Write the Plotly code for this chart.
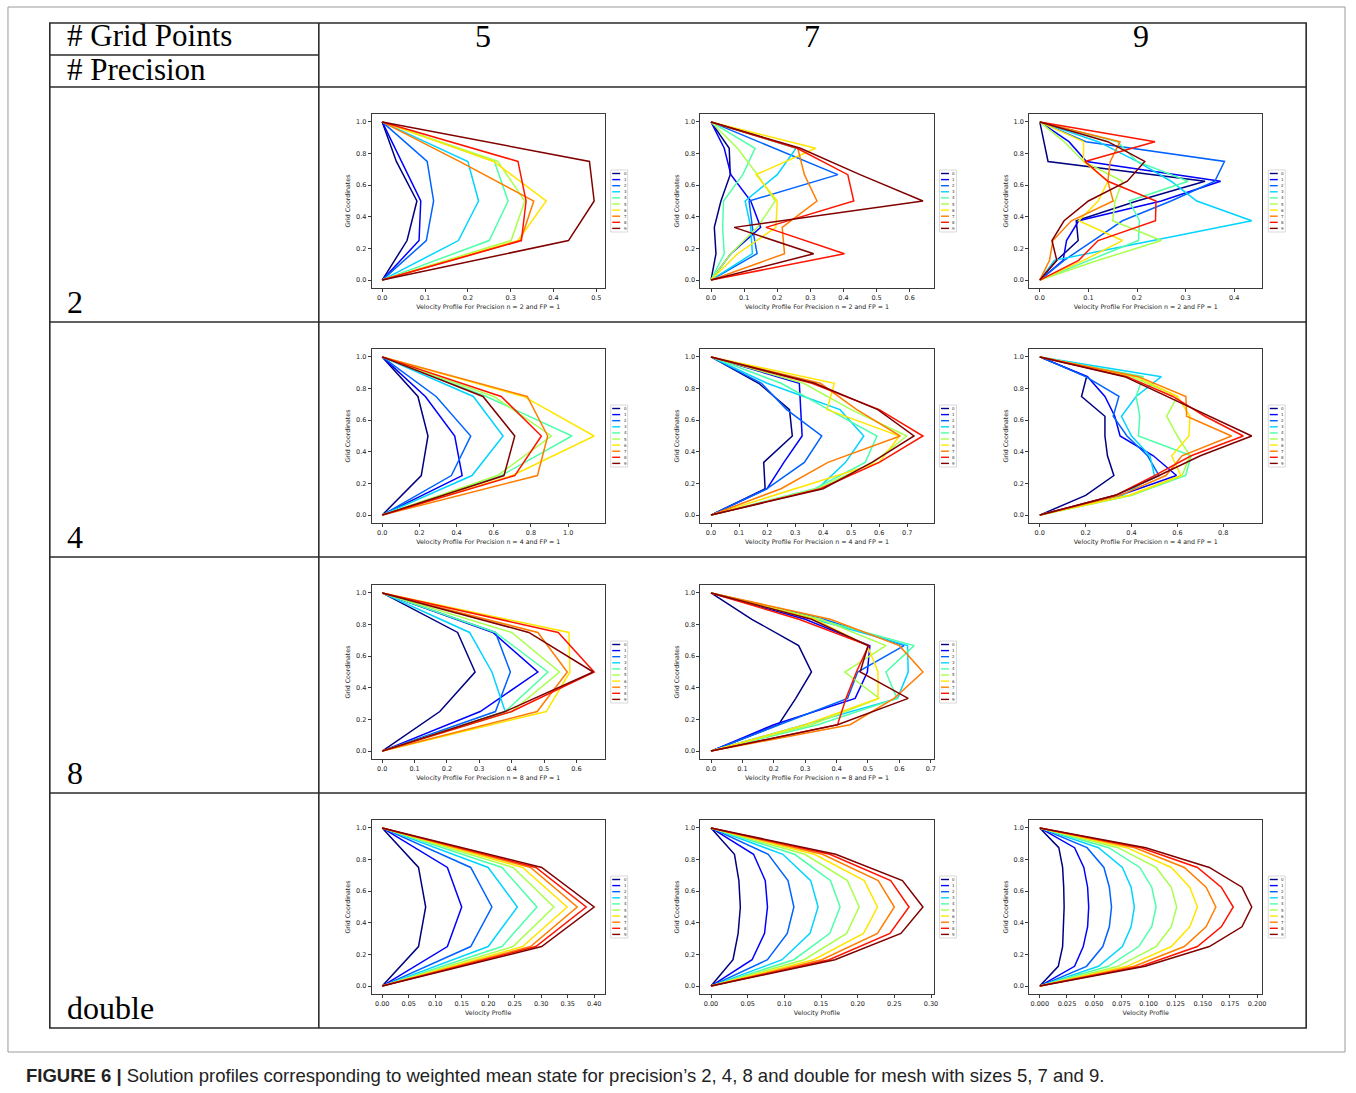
import plotly.graph_objects as go

# ---------------- data ----------------
SERIES_LABELS = ["0", "1", "2", "3", "4", "5", "6", "7", "8", "9"]
COL_LABELS = ["5", "7", "9"]
ROW_LABELS = ["2", "4", "8", "double"]

Y5 = [0.0, 0.25, 0.5, 0.75, 1.0]
Y7 = [0.0, 0.1667, 0.3333, 0.5, 0.6667, 0.8333, 1.0]
Y9 = [0.0, 0.125, 0.25, 0.375, 0.5, 0.625, 0.75, 0.875, 1.0]

n2_g5 = [
    [0, 0.058, 0.081, 0.033, 0],
    [0, 0.086, 0.090, 0.045, 0],
    [0, 0.103, 0.120, 0.105, 0],
    [0, 0.178, 0.225, 0.200, 0],
    [0, 0.250, 0.294, 0.262, 0],
    [0, 0.301, 0.333, 0.270, 0],
    [0, 0.317, 0.383, 0.260, 0],
    [0, 0.323, 0.354, 0.180, 0],
    [0, 0.325, 0.336, 0.317, 0],
    [0, 0.435, 0.495, 0.484, 0],
]
n2_g7 = [
    [0, 0.015, 0.010, 0.030, 0.058, 0.055, 0],
    [0, 0.060, 0.150, 0.120, 0.060, 0.040, 0],
    [0, 0.139, 0.125, 0.115, 0.383, 0.190, 0],
    [0, 0.125, 0.120, 0.103, 0.200, 0.257, 0],
    [0, 0.040, 0.035, 0.038, 0.096, 0.133, 0],
    [0, 0.060, 0.140, 0.194, 0.140, 0.080, 0],
    [0, 0.080, 0.196, 0.200, 0.136, 0.316, 0],
    [0, 0.222, 0.215, 0.320, 0.282, 0.262, 0],
    [0, 0.403, 0.166, 0.431, 0.413, 0.260, 0],
    [0, 0.310, 0.070, 0.640, 0.450, 0.270, 0],
]
n2_g9 = [
    [0, 0.035, 0.079, 0.075, 0.200, 0.340, 0.017, 0.008, 0],
    [0, 0.048, 0.055, 0.080, 0.250, 0.372, 0.096, 0.060, 0],
    [0, 0.050, 0.110, 0.170, 0.270, 0.360, 0.380, 0.095, 0],
    [0, 0.030, 0.233, 0.436, 0.323, 0.270, 0.200, 0.120, 0],
    [0, 0.100, 0.203, 0.205, 0.184, 0.305, 0.200, 0.160, 0],
    [0, 0.120, 0.250, 0.150, 0.155, 0.170, 0.090, 0.050, 0],
    [0, 0.090, 0.170, 0.080, 0.120, 0.140, 0.090, 0.090, 0],
    [0, 0.020, 0.027, 0.065, 0.151, 0.140, 0.145, 0.165, 0],
    [0, 0.080, 0.120, 0.238, 0.239, 0.140, 0.093, 0.237, 0],
    [0, 0.035, 0.025, 0.050, 0.100, 0.180, 0.216, 0.140, 0],
]
n4_g5 = [
    [0, 0.210, 0.246, 0.192, 0],
    [0, 0.430, 0.390, 0.232, 0],
    [0, 0.372, 0.476, 0.290, 0],
    [0, 0.483, 0.650, 0.490, 0],
    [0, 0.640, 1.020, 0.560, 0],
    [0, 0.620, 0.910, 0.600, 0],
    [0, 0.700, 1.140, 0.760, 0],
    [0, 0.835, 0.890, 0.780, 0],
    [0, 0.713, 0.856, 0.640, 0],
    [0, 0.655, 0.713, 0.542, 0],
]
n4_g7 = [
    [0, 0.193, 0.188, 0.290, 0.280, 0.170, 0],
    [0, 0.200, 0.260, 0.325, 0.320, 0.315, 0],
    [0, 0.200, 0.333, 0.395, 0.270, 0.180, 0],
    [0, 0.380, 0.480, 0.545, 0.460, 0.200, 0],
    [0, 0.370, 0.550, 0.592, 0.420, 0.250, 0],
    [0, 0.380, 0.580, 0.698, 0.500, 0.330, 0],
    [0, 0.300, 0.600, 0.672, 0.414, 0.440, 0],
    [0, 0.250, 0.417, 0.675, 0.520, 0.390, 0],
    [0, 0.390, 0.600, 0.756, 0.600, 0.360, 0],
    [0, 0.400, 0.574, 0.724, 0.595, 0.370, 0],
]
n4_g9 = [
    [0, 0.200, 0.323, 0.295, 0.284, 0.284, 0.182, 0.204, 0],
    [0, 0.350, 0.596, 0.495, 0.350, 0.327, 0.284, 0.208, 0],
    [0, 0.330, 0.520, 0.470, 0.380, 0.320, 0.345, 0.200, 0],
    [0, 0.360, 0.500, 0.480, 0.400, 0.356, 0.420, 0.530, 0],
    [0, 0.400, 0.636, 0.660, 0.430, 0.436, 0.420, 0.450, 0],
    [0, 0.400, 0.620, 0.655, 0.600, 0.553, 0.600, 0.400, 0],
    [0, 0.390, 0.615, 0.575, 0.650, 0.655, 0.600, 0.420, 0],
    [0, 0.350, 0.550, 0.620, 0.836, 0.640, 0.637, 0.430, 0],
    [0, 0.330, 0.500, 0.660, 0.887, 0.720, 0.580, 0.380, 0],
    [0, 0.330, 0.520, 0.700, 0.924, 0.740, 0.550, 0.370, 0],
]
n8_g5 = [
    [0, 0.178, 0.287, 0.233, 0],
    [0, 0.303, 0.481, 0.342, 0],
    [0, 0.350, 0.396, 0.350, 0],
    [0, 0.380, 0.339, 0.270, 0],
    [0, 0.380, 0.512, 0.350, 0],
    [0, 0.400, 0.548, 0.400, 0],
    [0, 0.507, 0.580, 0.577, 0],
    [0, 0.479, 0.572, 0.481, 0],
    [0, 0.400, 0.655, 0.544, 0],
    [0, 0.380, 0.652, 0.453, 0],
]
n8_g7 = [
    [0, 0.215, 0.270, 0.320, 0.279, 0.130, 0],
    [0, 0.200, 0.459, 0.498, 0.506, 0.300, 0],
    [0, 0.220, 0.435, 0.467, 0.615, 0.360, 0],
    [0, 0.300, 0.594, 0.628, 0.626, 0.330, 0],
    [0, 0.340, 0.592, 0.557, 0.647, 0.340, 0],
    [0, 0.320, 0.536, 0.426, 0.557, 0.350, 0],
    [0, 0.300, 0.532, 0.532, 0.498, 0.330, 0],
    [0, 0.443, 0.583, 0.675, 0.600, 0.380, 0],
    [0, 0.403, 0.430, 0.463, 0.502, 0.280, 0],
    [0, 0.403, 0.628, 0.475, 0.500, 0.320, 0],
]
dbl_g5 = [
    [0, 0.0685, 0.082, 0.0685, 0],
    [0, 0.123, 0.150, 0.123, 0],
    [0, 0.167, 0.207, 0.167, 0],
    [0, 0.200, 0.255, 0.200, 0],
    [0, 0.226, 0.292, 0.226, 0],
    [0, 0.247, 0.324, 0.247, 0],
    [0, 0.265, 0.349, 0.265, 0],
    [0, 0.280, 0.368, 0.280, 0],
    [0, 0.290, 0.385, 0.290, 0],
    [0, 0.301, 0.400, 0.301, 0],
]
dbl_g7 = [
    [0, 0.030, 0.037, 0.040, 0.038, 0.032, 0],
    [0, 0.056, 0.073, 0.077, 0.074, 0.058, 0],
    [0, 0.077, 0.104, 0.113, 0.105, 0.078, 0],
    [0, 0.097, 0.135, 0.146, 0.136, 0.098, 0],
    [0, 0.113, 0.162, 0.176, 0.163, 0.114, 0],
    [0, 0.127, 0.185, 0.202, 0.186, 0.128, 0],
    [0, 0.140, 0.208, 0.227, 0.209, 0.141, 0],
    [0, 0.151, 0.227, 0.250, 0.228, 0.152, 0],
    [0, 0.161, 0.244, 0.270, 0.245, 0.162, 0],
    [0, 0.169, 0.259, 0.289, 0.261, 0.170, 0],
]
dbl_g9 = [
    [0, 0.017, 0.021, 0.022, 0.0224, 0.022, 0.021, 0.0175, 0],
    [0, 0.032, 0.040, 0.044, 0.045, 0.044, 0.0405, 0.032, 0],
    [0, 0.043, 0.058, 0.064, 0.066, 0.064, 0.059, 0.0435, 0],
    [0, 0.054, 0.076, 0.084, 0.087, 0.084, 0.076, 0.054, 0],
    [0, 0.063, 0.091, 0.103, 0.107, 0.103, 0.092, 0.0635, 0],
    [0, 0.072, 0.107, 0.121, 0.126, 0.121, 0.107, 0.072, 0],
    [0, 0.080, 0.121, 0.138, 0.145, 0.138, 0.121, 0.080, 0],
    [0, 0.087, 0.133, 0.153, 0.162, 0.153, 0.133, 0.0875, 0],
    [0, 0.093, 0.145, 0.167, 0.178, 0.167, 0.145, 0.093, 0],
    [0, 0.097, 0.156, 0.186, 0.195, 0.186, 0.156, 0.0975, 0],
]

CAPTION_BOLD = "FIGURE 6 |"
CAPTION = ("Solution profiles corresponding to weighted mean state for precision’s 2, 4, 8 "
           "and double for mesh with sizes 5, 7 and 9.")

# ---------------- layout helpers ----------------
W, H = 1356, 1087   # slightly shorter than the window so the page never overflows
def px(x): return x / W
def py(y): return 1 - y / H

COL_PX = {"5": (373, 607), "7": (703, 937), "9": (1033, 1267)}
ROW_PX = {"2": (114, 288), "4": (349, 523), "8": (585, 759), "double": (820, 994)}

# (row, col, data, ygrid, dtick, tickformat)
panels = [
    ("2", "5", n2_g5, Y5, 0.1, ".1f"),
    ("2", "7", n2_g7, Y7, 0.1, ".1f"),
    ("2", "9", n2_g9, Y9, 0.1, ".1f"),
    ("4", "5", n4_g5, Y5, 0.2, ".1f"),
    ("4", "7", n4_g7, Y7, 0.1, ".1f"),
    ("4", "9", n4_g9, Y9, 0.2, ".1f"),
    ("8", "5", n8_g5, Y5, 0.1, ".1f"),
    ("8", "7", n8_g7, Y7, 0.1, ".1f"),
    ("double", "5", dbl_g5, Y5, 0.05, ".2f"),
    ("double", "7", dbl_g7, Y7, 0.05, ".2f"),
    ("double", "9", dbl_g9, Y9, 0.025, ".3f"),
]

def jet(t):
    def interp(pts):
        for (x0, v0), (x1, v1) in zip(pts[:-1], pts[1:]):
            if x0 <= t <= x1:
                return v0 + (v1 - v0) * (t - x0) / (x1 - x0) if x1 > x0 else v1
        return pts[-1][1]
    r = interp([(0, 0), (0.35, 0), (0.66, 1), (0.89, 1), (1, 0.5)])
    g = interp([(0, 0), (0.125, 0), (0.375, 1), (0.64, 1), (0.91, 0), (1, 0)])
    b = interp([(0, 0.5), (0.11, 1), (0.34, 1), (0.65, 0), (1, 0)])
    return "rgb(%d,%d,%d)" % (round(r * 255), round(g * 255), round(b * 255))

COLORS = [jet(i / 9) for i in range(10)]

fig = go.Figure()
shapes = []
annotations = []
layout = {}

TICKFONT = dict(family="DejaVu Sans", size=6.5, color="#222")
TITLEFONT = dict(family="DejaVu Sans", size=6.3, color="#222")
AXLINE = "#3a3a3a"

for k, (row, col, data, ygrid, dtick, tfmt) in enumerate(panels, start=1):
    xs = "" if k == 1 else str(k)
    x0p, x1p = COL_PX[col]
    y0p, y1p = ROW_PX[row]
    for i, xv in enumerate(data):
        fig.add_trace(go.Scatter(
            x=xv, y=ygrid, mode="lines", name=SERIES_LABELS[i],
            line=dict(color=COLORS[i], width=1.5), showlegend=False,
            xaxis="x" + xs, yaxis="y" + xs, hoverinfo="skip"))
    vals = [v for s in data for v in s]
    mx, mn = max(vals), min(vals)
    span = mx - mn
    xtitle = ("Velocity Profile" if row == "double"
              else "Velocity Profile For Precision n = %s and FP = 1" % row)
    layout["xaxis" + xs] = dict(
        domain=[px(x0p), px(x1p)], anchor="y" + xs,
        range=[mn - 0.05 * span, mx + 0.05 * span],
        dtick=dtick, tick0=0, tickformat=tfmt,
        showline=True, mirror=True, linecolor=AXLINE, linewidth=0.9,
        ticks="outside", ticklen=3, tickwidth=0.8, tickcolor=AXLINE,
        showgrid=False, zeroline=False, tickfont=TICKFONT,
        title=dict(text=xtitle, font=TITLEFONT, standoff=3))
    layout["yaxis" + xs] = dict(
        domain=[py(y1p), py(y0p)], anchor="x" + xs,
        range=[-0.05, 1.05], dtick=0.2, tick0=0, tickformat=".1f",
        showline=True, mirror=True, linecolor=AXLINE, linewidth=0.9,
        ticks="outside", ticklen=3, tickwidth=0.8, tickcolor=AXLINE,
        showgrid=False, zeroline=False, tickfont=TICKFONT,
        title=dict(text="Grid Coordinates", font=TITLEFONT, standoff=4))

    # manual compact legend (matplotlib style)
    yc = (y0p + y1p) / 2
    lx0 = x1p + 6
    shapes.append(dict(type="rect", xref="paper", yref="paper",
                       x0=px(lx0), x1=px(lx0 + 17), y0=py(yc + 31), y1=py(yc - 31),
                       line=dict(color="#cfcfcf", width=0.8), fillcolor="white"))
    for i in range(10):
        yy = yc - 27.5 + i * 6.1
        shapes.append(dict(type="line", xref="paper", yref="paper",
                           x0=px(lx0 + 1.5), x1=px(lx0 + 9.5), y0=py(yy), y1=py(yy),
                           line=dict(color=COLORS[i], width=1.4)))
        annotations.append(dict(text=SERIES_LABELS[i], xref="paper", yref="paper",
                                x=px(lx0 + 11), y=py(yy), xanchor="left", yanchor="middle",
                                showarrow=False, font=dict(family="DejaVu Sans", size=4, color="#333")))

# ---------------- table frame ----------------
TL = dict(color="#2b2b2b", width=1.6)
shapes.append(dict(type="rect", xref="paper", yref="paper", x0=px(8), x1=px(1350),
                   y0=py(1052), y1=py(7), line=dict(color="#9a9a9a", width=1), layer="below"))
shapes.append(dict(type="rect", xref="paper", yref="paper", x0=px(50), x1=px(1311),
                   y0=py(1028), y1=py(23), line=TL))
for yl in [87, 322, 557, 793]:
    shapes.append(dict(type="line", xref="paper", yref="paper", x0=px(50), x1=px(1311),
                       y0=py(yl), y1=py(yl), line=TL))
shapes.append(dict(type="line", xref="paper", yref="paper", x0=px(50), x1=px(320),
                   y0=py(55), y1=py(55), line=TL))
shapes.append(dict(type="line", xref="paper", yref="paper", x0=px(320), x1=px(320),
                   y0=py(1028), y1=py(23), line=TL))

SERIF = dict(family="Liberation Serif", size=31, color="black")
SERIF_ROW = dict(family="Liberation Serif", size=32, color="black")
annotations.append(dict(text="# Grid Points", x=px(65), y=py(35.5), xref="paper", yref="paper",
                        xanchor="left", yanchor="middle", showarrow=False, font=SERIF))
annotations.append(dict(text="# Precision", x=px(65), y=py(70), xref="paper", yref="paper",
                        xanchor="left", yanchor="middle", showarrow=False, font=SERIF))
for lab, xc in zip(COL_LABELS, [485, 815, 1145]):
    annotations.append(dict(text=lab, x=px(xc), y=py(36), xref="paper", yref="paper",
                            xanchor="center", yanchor="middle", showarrow=False, font=SERIF_ROW))
for lab, yc in zip(ROW_LABELS, [302, 537, 773, 1008]):
    annotations.append(dict(text=lab, x=px(65), y=py(yc), xref="paper", yref="paper",
                            xanchor="left", yanchor="middle", showarrow=False, font=SERIF_ROW))
annotations.append(dict(text="<b>" + CAPTION_BOLD + "</b> " + CAPTION, x=px(24), y=py(1075),
                        xref="paper", yref="paper", xanchor="left", yanchor="middle",
                        showarrow=False, font=dict(family="Liberation Sans", size=18.5, color="#222")))

fig.update_layout(
    width=W, height=H, margin=dict(l=0, r=0, t=0, b=0),
    paper_bgcolor="white", plot_bgcolor="white",
    shapes=shapes, annotations=annotations, showlegend=False, **layout)

fig.write_html("out.html")
